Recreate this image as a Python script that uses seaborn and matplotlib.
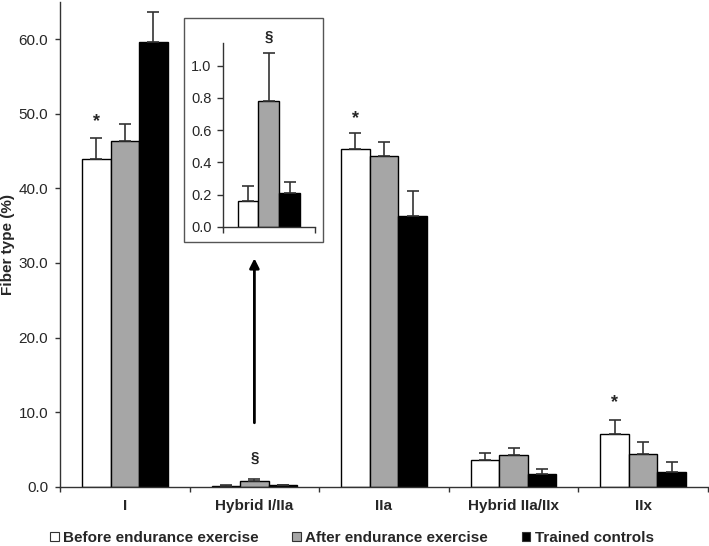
import numpy as np
import pandas as pd
import matplotlib
matplotlib.use("Agg")
import matplotlib.pyplot as plt
from matplotlib.patches import Rectangle, Patch
import seaborn as sns

categories = ["I", "Hybrid I/IIa", "IIa", "Hybrid IIa/IIx", "IIx"]
groups = ["Before endurance exercise", "After endurance exercise", "Trained controls"]
before = [44.0, 0.16, 45.3, 3.6, 7.1]
before_err = [2.8, 0.09, 2.1, 0.9, 1.9]
after = [46.3, 0.78, 44.4, 4.2, 4.4]
after_err = [2.4, 0.30, 1.8, 1.0, 1.6]
trained = [59.7, 0.21, 36.3, 1.7, 2.0]
trained_err = [4.0, 0.07, 3.4, 0.7, 1.3]
colors = ["#ffffff", "#a6a6a6", "#000000"]

sns.set_theme(style="white")
plt.rcParams["font.family"] = ["Liberation Sans", "DejaVu Sans"]

rows = []
for g, vals, errs in zip(groups, [before, after, trained], [before_err, after_err, trained_err]):
    for c, v, e in zip(categories, vals, errs):
        rows.append({"type": c, "pct": v, "err": e, "group": g})
df = pd.DataFrame(rows)
err_lists = [before_err, after_err, trained_err]

fig = plt.figure(figsize=(7.09, 5.46), dpi=100)
ax = fig.add_axes([60 / 709, 59.3 / 546, 648 / 709, 484.7 / 546])

sns.barplot(data=df, x="type", y="pct", hue="group", hue_order=groups, order=categories,
            palette=colors, width=0.66, edgecolor="black", linewidth=1,
            errorbar=None, legend=False, ax=ax)


def add_errs(a, errs_by_group, cap):
    for cont, errs in zip(a.containers, errs_by_group):
        for bar, e in zip(cont, errs):
            a.errorbar(bar.get_x() + bar.get_width() / 2, bar.get_height(),
                       yerr=[[0], [e]], fmt="none", ecolor="#333333",
                       elinewidth=1.2, capsize=cap, capthick=1.2, zorder=1)


add_errs(ax, err_lists, 4.5)

ax.set_xlim(-0.5, 4.5)
ax.set_ylim(0, 65)
ax.set_yticks(np.arange(0, 61, 10))
ax.set_yticklabels([f"{v:.1f}" for v in np.arange(0, 61, 10)], fontsize=11)
ax.set_xticks(range(len(categories)))
ax.set_xticklabels(categories, fontsize=11, fontweight="bold")
ax.set_xticks(np.arange(-0.5, 5, 1), minor=True)
ax.tick_params(axis="x", which="major", length=0, pad=9)
ax.tick_params(axis="x", which="minor", length=3.6, width=1, direction="out", color="#333333", bottom=True)
ax.tick_params(axis="y", length=3.6, width=1, direction="out", color="#333333", left=True, pad=5)
ax.set_xlabel("")
ax.set_ylabel("Fiber type (%)", fontsize=11, fontweight="bold")
ax.yaxis.set_label_coords(-0.069, 0.5)
sns.despine(ax=ax)
for s in ["left", "bottom"]:
    ax.spines[s].set_color("#333333")
    ax.spines[s].set_linewidth(1)

# significance marks
ax.text(-0.22, 48.9, "*", ha="center", va="center", fontsize=13, fontweight="bold")
ax.text(1.78, 49.3, "*", ha="center", va="center", fontsize=13, fontweight="bold")
ax.text(3.78, 11.3, "*", ha="center", va="center", fontsize=13, fontweight="bold")
ax.text(1, 3.9, "§", ha="center", va="center", fontsize=11, fontweight="bold")

ax.annotate("", xy=(1, 31.0), xytext=(1, 8.2),
            arrowprops=dict(arrowstyle="-|>", lw=2, color="black", mutation_scale=14))

# inset
box = Rectangle((184 / 709, (546 - 241.7) / 546), 139.3 / 709, 223.4 / 546,
                transform=fig.transFigure, facecolor="white", edgecolor="#555555", lw=1, zorder=0.5)
fig.add_artist(box)
ax_in = fig.add_axes([222.7 / 709, (546 - 226.7) / 546, 92.3 / 709, 184 / 546])
ax_in.set_zorder(2)
df_in = df[df["type"] == "Hybrid I/IIa"]
sns.barplot(data=df_in, x="type", y="pct", hue="group", hue_order=groups,
            palette=colors, width=0.675, edgecolor="black", linewidth=1,
            errorbar=None, legend=False, ax=ax_in)
add_errs(ax_in, [[e[1]] for e in err_lists], 4.5)
ax_in.set_xlim(-0.5, 0.5)
ax_in.set_ylim(0, 1.143)
ax_in.set_yticks(np.arange(0, 1.01, 0.2))
ax_in.set_yticklabels([f"{v:.1f}" for v in np.arange(0, 1.01, 0.2)], fontsize=10.5)
ax_in.set_xticks([])
ax_in.set_xticks([-0.5, 0.5], minor=True)
ax_in.tick_params(axis="x", which="minor", length=4, width=1, direction="out", color="#333333", bottom=True)
ax_in.tick_params(axis="y", length=4, width=1, direction="out", color="#333333", left=True, pad=4)
ax_in.set_xlabel("")
ax_in.set_ylabel("")
ax_in.patch.set_alpha(0)
sns.despine(ax=ax_in)
for s in ["left", "bottom"]:
    ax_in.spines[s].set_color("#333333")
    ax_in.spines[s].set_linewidth(1)
ax_in.text(0, 1.18, "§", ha="center", va="center", fontsize=11, fontweight="bold", clip_on=False)

handles = [Patch(facecolor=c, edgecolor="#333333", lw=0.8) for c in colors]
fig.legend(handles, groups, loc="center", bbox_to_anchor=(352 / 709, (546 - 538) / 546),
           ncol=3, frameon=False, handlelength=0.55, handleheight=0.55, handletextpad=0.3,
           columnspacing=2.2, prop={"size": 11, "weight": "bold"})

fig.savefig("out.png", dpi=100)
